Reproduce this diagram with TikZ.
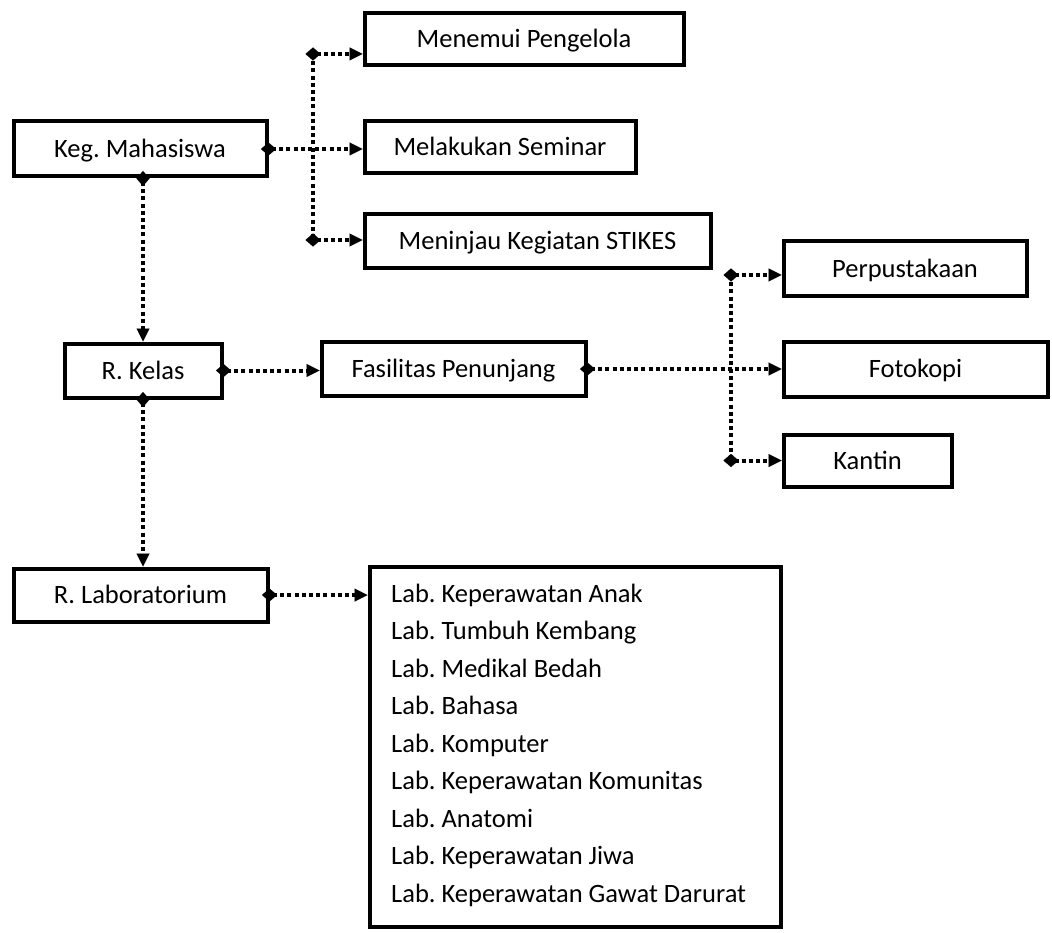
\documentclass[tikz,border=0pt]{standalone}
\usepackage{fontspec}
\setmainfont{Carlito}
\usetikzlibrary{arrows.meta}

\tikzset{
  box/.style={draw, line width=4pt, inner sep=0pt, align=center,
              text height=17pt, text depth=0pt,
              font=\fontsize{26.5}{30}\selectfont\frenchspacing},
  tips/.style={{Diamond[length=15pt,width=13pt,line width=0.01pt]}-{Triangle[length=13pt,width=13pt,line width=0.01pt]},
               shorten <=-7.5pt},
  bus/.style={line width=4pt, dash pattern=on 4pt off 3.2pt},
  link/.style={bus, tips},
}

\begin{document}
\begin{tikzpicture}[x=1pt,y=-1pt]
\useasboundingbox (0,0) rectangle (1052,933);

% boxes
\node[box, minimum width=253pt, minimum height=55pt] (keg)      at (140,149)   {Keg. Mahasiswa};
\node[box, minimum width=319pt, minimum height=52pt] (menemui)  at (524,39.5)  {Menemui Pengelola};
\node[box, minimum width=271pt, minimum height=52pt] (seminar)  at (500,147.5) {Melakukan Seminar};
\node[box, minimum width=346pt, minimum height=54pt] (meninjau) at (537.5,241.5) {Meninjau Kegiatan STIKES};
\node[box, minimum width=157pt, minimum height=54pt] (kelas)    at (143,370.5) {R. Kelas};
\node[box, minimum width=264pt, minimum height=54pt] (fasilitas) at (453.5,369) {Fasilitas Penunjang};
\node[box, minimum width=243pt, minimum height=55pt] (perpus)   at (905,269)   {Perpustakaan};
\node[box, minimum width=264pt, minimum height=55pt] (fotokopi) at (915.5,369) {Fotokopi};
\node[box, minimum width=168pt, minimum height=52pt] (kantin)   at (867.5,460.5) {Kantin};
\node[box, minimum width=254pt, minimum height=53pt] (lab)      at (140.5,595) {R. Laboratorium};
\node[draw, line width=4pt, inner sep=0pt,
      minimum width=411pt, minimum height=360pt] (lablist) at (575,746.5) {};
\node[anchor=west, align=left, inner sep=0pt,
      font=\fontsize{26.5}{37.5}\selectfont\frenchspacing] (labtext) at (391,745)
  {Lab. Keperawatan Anak\\
   Lab. Tumbuh Kembang\\
   Lab. Medikal Bedah\\
   Lab. Bahasa\\
   Lab. Komputer\\
   Lab. Keperawatan Komunitas\\
   Lab. Anatomi\\
   Lab. Keperawatan Jiwa\\
   Lab. Keperawatan Gawat Darurat};

% branch points
\coordinate (b1t) at (313,54);
\coordinate (b1b) at (313,240);
\coordinate (b2t) at (731,275);
\coordinate (b2b) at (731,460.5);

% connectors
\draw[link] (keg.east) -- (seminar.west |- keg.east);
\draw[bus]  (b1t) -- (b1b);
\draw[link] (b1t) -- (menemui.west |- b1t);
\draw[link] (b1b) -- (meninjau.west |- b1b);

\draw[link] (kelas.north |- keg.south) -- (kelas.north);
\draw[link] (kelas.east) -- (fasilitas.west |- kelas.east);
\draw[link] (kelas.south) -- (kelas.south |- lab.north);

\draw[link] (fasilitas.east) -- (fotokopi.west |- fasilitas.east);
\draw[bus]  (b2t) -- (b2b);
\draw[link] (b2t) -- (perpus.west |- b2t);
\draw[link] (b2b) -- (kantin.west);

\draw[link] (lab.east) -- (lablist.west |- lab.east);
\end{tikzpicture}
\end{document}
